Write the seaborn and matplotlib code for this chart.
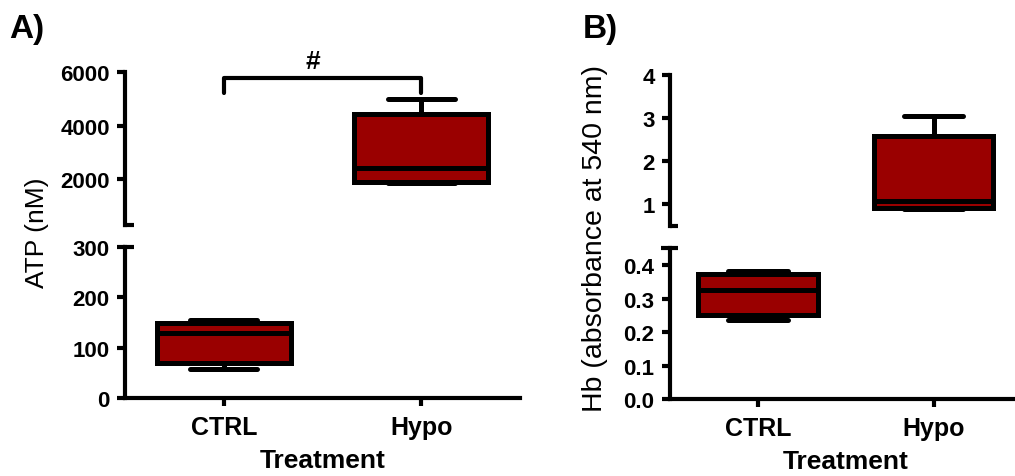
import pandas as pd
import numpy as np
import matplotlib.pyplot as plt
import seaborn as sns

# --------------------------
# Data (min, q1, median, q3, max)
# --------------------------
groups = ["CTRL", "Hypo"]

atp_ctrl = [57, 70, 130, 150, 155]
atp_hypo = [1850, 1900, 2440, 4430, 4980]

hb_ctrl = [0.235, 0.25, 0.325, 0.373, 0.383]
hb_hypo = [0.88, 0.90, 1.07, 2.59, 3.04]

atp_top_ticks = [2000, 4000, 6000]
atp_bot_ticks = [0, 100, 200, 300]
hb_top_ticks = [1, 2, 3, 4]
hb_bot_ticks = [0.0, 0.1, 0.2, 0.3, 0.4]

box_color = "#9a0000"

sns.set_style("ticks")
plt.rcParams["font.family"] = ["Liberation Sans", "DejaVu Sans"]
plt.rcParams["axes.linewidth"] = 3
for key in ["text.color", "axes.labelcolor", "axes.edgecolor",
            "xtick.color", "ytick.color"]:
    plt.rcParams[key] = "black"


def make_df(ctrl, hypo):
    return pd.DataFrame({
        "Treatment": ["CTRL"] * len(ctrl) + ["Hypo"] * len(hypo),
        "value": ctrl + hypo,
    })


def draw_boxes(ax, df):
    sns.boxplot(data=df, x="Treatment", y="value", order=groups, ax=ax,
                whis=(0, 100), width=0.68, color=box_color, saturation=1,
                linecolor="black", linewidth=3.6)
    ax.set_xlim(-0.5, 1.5)
    ax.set_ylabel("")
    ax.tick_params(axis="both", width=3, length=6, labelsize=16, pad=5)


def break_mark(ax, y, left=0.006, right=0.022):
    ax.plot([-left, right], [y, y], color="black", lw=3,
            transform=ax.get_yaxis_transform(), clip_on=False,
            solid_capstyle="butt")


def panel(ax_top, ax_bot, df, top_lim, bot_lim, top_ticks, bot_ticks, fmt):
    draw_boxes(ax_top, df)
    draw_boxes(ax_bot, df)

    ax_top.set_ylim(*top_lim)
    ax_top.set_yticks(top_ticks)
    ax_top.set_yticklabels([fmt(t) for t in top_ticks], fontweight="bold")
    ax_top.set_xticks([])
    ax_top.set_xlabel("")
    for s in ["top", "right", "bottom"]:
        ax_top.spines[s].set_visible(False)

    ax_bot.set_ylim(*bot_lim)
    ax_bot.set_yticks(bot_ticks)
    ax_bot.set_yticklabels([fmt(t) for t in bot_ticks], fontweight="bold")
    for s in ["top", "right"]:
        ax_bot.spines[s].set_visible(False)
    ax_bot.tick_params(axis="x", labelsize=18, pad=6)
    for lab in ax_bot.get_xticklabels():
        lab.set_fontweight("bold")
    ax_bot.set_xlabel("Treatment", fontsize=19, fontweight="bold",
                      labelpad=6.5)


fig = plt.figure(figsize=(10.15, 4.77), dpi=100)

# --------------------------
# Panel A: ATP
# --------------------------
axA_top = fig.add_axes([0.1232, 0.5262, 0.389, 0.3208])
axA_bot = fig.add_axes([0.1232, 0.1635, 0.389, 0.3166])
panel(axA_top, axA_bot, make_df(atp_ctrl, atp_hypo), (300, 6000), (0, 300),
      atp_top_ticks, atp_bot_ticks, lambda t: f"{t:d}")
break_mark(axA_top, 300)
break_mark(axA_bot, 300)

# significance bracket
axA_top.plot([0, 0, 1, 1], [5230, 5765, 5765, 5230], color="black", lw=3,
             clip_on=False)
axA_top.text(0.45, 5950, "#", ha="center", va="bottom", fontsize=19,
             fontweight="bold")

fig.text(0.036, 0.512, "ATP (nM)", rotation=90, ha="center", va="center",
         fontsize=19)
fig.text(0.026, 0.939, "A)", ha="center", va="center", fontsize=24,
         fontweight="bold")

# --------------------------
# Panel B: Hb
# --------------------------
axB_top = fig.add_axes([0.660, 0.5247, 0.3463, 0.316])
axB_bot = fig.add_axes([0.660, 0.1614, 0.3463, 0.316])
panel(axB_top, axB_bot, make_df(hb_ctrl, hb_hypo), (0.5, 4), (0, 0.45),
      hb_top_ticks, hb_bot_ticks, lambda t: f"{t:g}" if t >= 1 else f"{t:.1f}")
break_mark(axB_top, 0.5, left=0.0)
break_mark(axB_bot, 0.45, left=0.025)

fig.text(0.586, 0.499, "Hb (absorbance at 540 nm)", rotation=90,
         ha="center", va="center", fontsize=20.5)
fig.text(0.591, 0.939, "B)", ha="center", va="center", fontsize=24,
         fontweight="bold")

fig.savefig("out.png", dpi=100)
